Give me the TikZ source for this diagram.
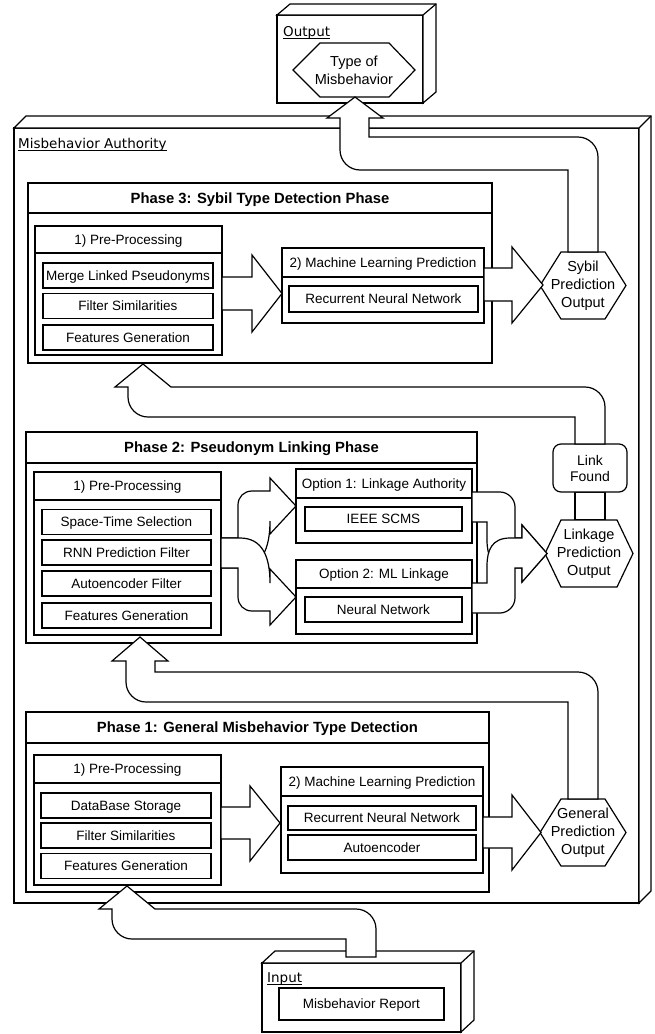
\documentclass[tikz,border=0pt]{standalone}
\usepackage{fontspec}
\setmainfont{Liberation Sans}
\newfontfamily\lblfont{DejaVu Sans}
\usetikzlibrary{calc}
\begin{document}
\begin{tikzpicture}[x=1pt,y=-1pt,
  lw/.style={line width=1.2pt},
  box/.style={draw, fill=white, line width=1.2pt, inner sep=0pt, outer sep=0pt},
  face/.style={draw, fill=white, line width=1.2pt, line join=miter},
  itm/.style={box, font=\fontsize{13.5}{16}\selectfont, text height=9.7pt, text depth=0pt},
  txt/.style={inner sep=0pt, font=\fontsize{13.5}{16}\selectfont, text height=9.7pt, text depth=0pt},
  ttl/.style={inner sep=0pt, font=\bfseries\fontsize{14.8}{17}\selectfont, text height=10.6pt, text depth=0pt},
  htxt/.style={inner sep=0pt, align=center, font=\fontsize{14.5}{18}\selectfont},
  lbl/.style={inner sep=0pt, anchor=base west, font=\lblfont\fontsize{13.5}{16}\selectfont},
  uline/.style={line width=0.9pt},
  flex/.style={draw, fill=white, line width=1.2pt, line join=miter},
  hex/.style={draw, fill=white, line width=1.2pt, line join=miter}
]
\useasboundingbox (0,0) rectangle (654,1034);

% ---------- Misbehavior Authority cube ----------
\node[box, minimum width=625pt, minimum height=775pt] (ma) at (326.5,515.5) {};
\draw[face] (ma.north west) -- ++(12,-12) -- ($(ma.north east)+(12,-12)$) -- ($(ma.south east)+(12,-12)$) -- (ma.south east) -- (ma.north east) -- cycle;
\draw[lw] (ma.north east) -- ++(12,-12);
\node[lbl] (malbl) at (18,148) {Misbehavior Authority};
\draw[uline] ($(malbl.base west)+(0,2.5)$) -- ($(malbl.base east)+(0,2.5)$);

% ---------- Output cube ----------
\node[box, minimum width=146pt, minimum height=88pt] (outbox) at (350,59) {};
\draw[face] (outbox.north west) -- ++(13,-11) -- ($(outbox.north east)+(13,-11)$) -- ($(outbox.south east)+(13,-11)$) -- (outbox.south east) -- (outbox.north east) -- cycle;
\draw[lw] (outbox.north east) -- ++(13,-11);
\node[lbl] (outlbl) at (283,36) {Output};
\draw[uline] ($(outlbl.base west)+(0,2.5)$) -- ($(outlbl.base east)+(0,2.5)$);
\draw[hex] (293,70) -- (320,43) -- (389,43) -- (415,70) -- (389,97) -- (320,97) -- cycle;
\node[htxt] (outhex) at (354,70) {Type of\\Misbehavior};

% ---------- Input cube ----------
\node[box, minimum width=199pt, minimum height=69pt] (inbox) at (361.5,997.5) {};
\draw[face] (inbox.north west) -- ++(13,-12) -- ($(inbox.north east)+(13,-12)$) -- ($(inbox.south east)+(13,-12)$) -- (inbox.south east) -- (inbox.north east) -- cycle;
\draw[lw] (inbox.north east) -- ++(13,-12);
\node[lbl] (inlbl) at (267,982) {Input};
\draw[uline] ($(inlbl.base west)+(0,2.5)$) -- ($(inlbl.base east)+(0,2.5)$);
\node[itm, minimum width=165pt, minimum height=32pt] (report) at (361.5,1004) {Misbehavior Report};

% ---------- Phase 3 ----------
\node[box, minimum width=464pt, minimum height=180pt] (p3) at (260,273) {};
\draw[lw] (28,213) -- (492,213);
\node[ttl] (p3t) at (260,198) {Phase 3: Sybil Type Detection Phase};
\node[box, minimum width=187pt, minimum height=129pt] (pre3) at (128.5,290.5) {};
\draw[lw] (35,253) -- (222,253);
\node[txt] (pre3t) at (128.5,239.5) {1) Pre-Processing};
\node[itm, minimum width=170pt, minimum height=25pt] (m3a) at (128,275.5) {Merge Linked Pseudonyms};
\node[itm, minimum width=170pt, minimum height=25pt] (m3b) at (128,306) {Filter Similarities};
\node[itm, minimum width=170pt, minimum height=25pt] (m3c) at (128,337.5) {Features Generation};
\node[box, minimum width=202pt, minimum height=75pt] (ml3) at (383,285.5) {};
\draw[lw] (282,277) -- (484,277);
\node[txt] (ml3t) at (383,262.5) {2) Machine Learning Prediction};
\node[itm, minimum width=189pt, minimum height=26pt] (rnn3) at (383.5,299) {Recurrent Neural Network};

% ---------- Phase 2 ----------
\node[box, minimum width=451pt, minimum height=211pt] (p2) at (251.5,537.5) {};
\draw[lw] (26,463) -- (477,463);
\node[ttl] (p2t) at (251.5,447.5) {Phase 2: Pseudonym Linking Phase};
\node[box, minimum width=187pt, minimum height=163pt] (pre2) at (127.5,553.5) {};
\draw[lw] (34,500) -- (221,500);
\node[txt] (pre2t) at (127.5,486) {1) Pre-Processing};
\node[itm, minimum width=169pt, minimum height=25pt] (s2a) at (126.5,522) {Space-Time Selection};
\node[itm, minimum width=169pt, minimum height=25pt] (s2b) at (126.5,552.5) {RNN Prediction Filter};
\node[itm, minimum width=169pt, minimum height=25pt] (s2c) at (126.5,583.5) {Autoencoder Filter};
\node[itm, minimum width=169pt, minimum height=25pt] (s2d) at (126.5,615.5) {Features Generation};
\node[box, minimum width=176pt, minimum height=74pt] (opt1) at (384,506) {};
\draw[lw] (296,498) -- (472,498);
\node[txt] (opt1t) at (384,483.5) {Option 1: Linkage Authority};
\node[itm, minimum width=157pt, minimum height=24pt] (ieee) at (383.5,519) {IEEE SCMS};
\node[box, minimum width=176pt, minimum height=74pt] (opt2) at (384,597) {};
\draw[lw] (296,588) -- (472,588);
\node[txt] (opt2t) at (384,574) {Option 2: ML Linkage};
\node[itm, minimum width=157pt, minimum height=25pt] (nn) at (383.5,609.5) {Neural Network};

% ---------- Phase 1 ----------
\node[box, minimum width=463pt, minimum height=180pt] (p1) at (257.5,802) {};
\draw[lw] (26,743) -- (489,743);
\node[ttl] (p1t) at (257.5,727.5) {Phase 1: General Misbehavior Type Detection};
\node[box, minimum width=187pt, minimum height=130pt] (pre1) at (127.5,820) {};
\draw[lw] (34,783) -- (221,783);
\node[txt] (pre1t) at (127.5,769) {1) Pre-Processing};
\node[itm, minimum width=170pt, minimum height=25pt] (d1a) at (126,805.5) {DataBase Storage};
\node[itm, minimum width=170pt, minimum height=25pt] (d1b) at (126,835.5) {Filter Similarities};
\node[itm, minimum width=170pt, minimum height=25pt] (d1c) at (126,866) {Features Generation};
\node[box, minimum width=202pt, minimum height=106pt] (ml1) at (382,820) {};
\draw[lw] (281,796) -- (483,796);
\node[txt] (ml1t) at (382,781.5) {2) Machine Learning Prediction};
\node[itm, minimum width=188pt, minimum height=24pt] (rnn1) at (382,818) {Recurrent Neural Network};
\node[itm, minimum width=188pt, minimum height=25pt] (auto1) at (382,847.5) {Autoencoder};

% ---------- Link Found and hexagons ----------
\draw[flex] (575,492) rectangle (605,520);
\node[box, rounded corners=8pt, minimum width=74pt, minimum height=48pt, align=center, font=\fontsize{14}{16}\selectfont] (lf) at (590,468) {Link\\Found};
\draw[hex] (540,285.5) -- (561,252) -- (605,252) -- (626,285.5) -- (605,319) -- (561,319) -- cycle;
\node[htxt] (syb) at (583,285.5) {Sybil\\Prediction\\Output};
\draw[hex] (545,553.5) -- (561,520) -- (617,520) -- (633,553.5) -- (617,587) -- (561,587) -- cycle;
\node[htxt] (lnk) at (589,553.5) {Linkage\\Prediction\\Output};
\draw[hex] (540,832.5) -- (561,799) -- (605,799) -- (626,832.5) -- (605,866) -- (561,866) -- cycle;
\node[htxt] (gen) at (583,832.5) {General\\Prediction\\Output};

% ---------- straight flex arrows ----------
\draw[flex] (222,277) -- (252,277) -- (252,255) -- (282,293.5) -- (252,332) -- (252,310) -- (222,310) -- cycle;
\draw[flex] (484,268) -- (512,268) -- (512,247) -- (543,285) -- (512,323) -- (512,301) -- (484,301) -- cycle;
\draw[flex] (221,807) -- (250,807) -- (250,786) -- (280,823) -- (250,861) -- (250,839) -- (221,839) -- cycle;
\draw[flex] (483,817) -- (512,817) -- (512,795) -- (541,832.5) -- (512,870) -- (512,848) -- (483,848) -- cycle;

% ---------- split arrows in Phase 2 ----------
\draw[flex] (221,538) -- (238,538) -- (238,505) .. controls (238,497) and (244,491) .. (252,491) -- (270,491) -- (270,478) -- (296,506) -- (270,534) -- (270,521) .. controls (270,548) and (262,568) .. (240,568) -- (221,568) -- cycle;
\draw[flex] (221,568) -- (238,568) -- (238,597) .. controls (238,605) and (244,611) .. (252,611) -- (270,611) -- (270,625) -- (296,597) -- (270,569) -- (270,583) .. controls (270,556) and (262,538) .. (240,538) -- (221,538) -- cycle;

% ---------- merge arrows to Linkage hexagon ----------
\draw[flex] (472,492) -- (500,492) .. controls (508,492) and (515,499) .. (515,507) -- (515,538) -- (522,538) -- (522,525) -- (547,553.5) -- (522,582) -- (522,568) -- (510,568) .. controls (492,568) and (487,556) .. (487,540) -- (487,522) -- (472,522) -- cycle;
\draw[flex] (472,613) -- (500,613) .. controls (508,613) and (515,606) .. (515,598) -- (515,568) -- (522,568) -- (522,582) -- (547,553.5) -- (522,525) -- (522,538) -- (510,538) .. controls (492,538) and (487,550) .. (487,566) -- (487,583) -- (472,583) -- cycle;

% ---------- U-shaped flex arrows ----------
% Sybil -> Output
\draw[flex] (568,252) -- (568,170) -- (360,170) .. controls (349,170) and (340,161) .. (340,150) -- (340,118) -- (327,118) -- (355,97) -- (383,118) -- (369,118) -- (369,137) -- (578,137) .. controls (589,137) and (598,146) .. (598,157) -- (598,252) -- cycle;
% Link Found -> Phase 3
\draw[flex] (575,444) -- (575,417) -- (148,417) .. controls (137,417) and (128,408) .. (128,397) -- (128,387) -- (115,387) -- (143,364) -- (171,387) -- (585,387) .. controls (596,387) and (605,396) .. (605,407) -- (605,444) -- cycle;
% General -> Phase 2
\draw[flex] (568,799) -- (568,702) -- (146,702) .. controls (135,702) and (126,693) .. (126,682) -- (126,661) -- (112,661) -- (140,637) -- (168,661) -- (155,661) -- (155,672) -- (578,672) .. controls (589,672) and (598,681) .. (598,692) -- (598,799) -- cycle;
% Input -> Phase 1
\draw[flex] (346,957) -- (346,939) -- (132,939) .. controls (121,939) and (112,930) .. (112,919) -- (112,909) -- (99,909) -- (127,886) -- (155,909) -- (356,909) .. controls (367,909) and (376,918) .. (376,929) -- (376,957) -- cycle;

\end{tikzpicture}
\end{document}
